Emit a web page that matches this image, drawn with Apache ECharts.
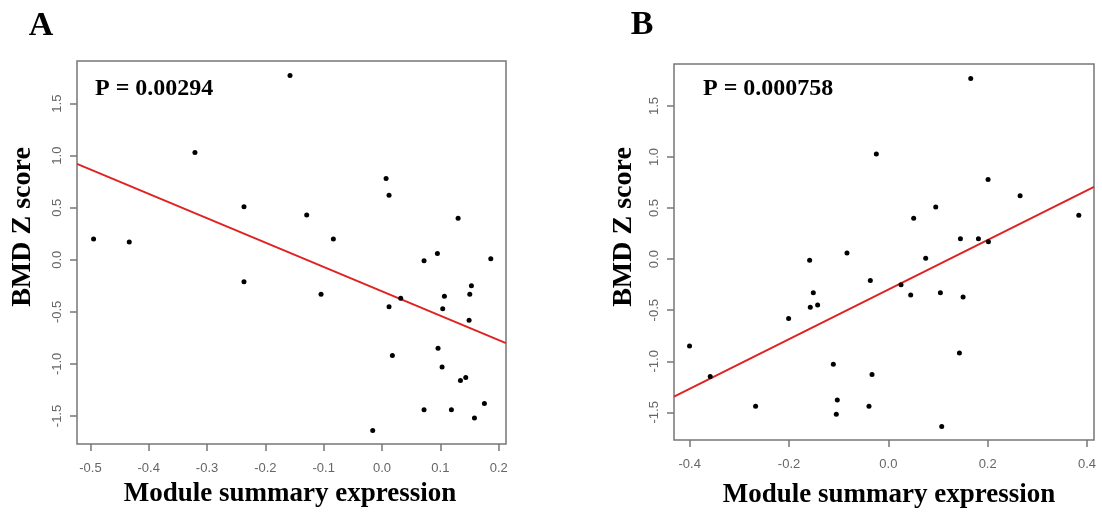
<!DOCTYPE html>
<html>
<head>
<meta charset="utf-8">
<script src="https://cdn.jsdelivr.net/npm/echarts@6/dist/echarts.min.js"></script>
<style>
  html, body { margin: 0; padding: 0; background: #fff; }
  #chart { width: 1102px; height: 513px; }
</style>
</head>
<body>
<div id="chart"></div>
<script>
// Panel A: module summary expression vs BMD Z score
const xA = [-0.4946, -0.4334, -0.3208, -0.2367, -0.2367, -0.1578, -0.1292, -0.1046, -0.0835, -0.0160,
            0.0069, 0.0120, 0.0120, 0.0177, 0.0320, 0.0720, 0.0720, 0.0949, 0.0960, 0.1029,
            0.1040, 0.1069, 0.1189, 0.1304, 0.1344, 0.1435, 0.1492, 0.1504, 0.1532, 0.1584,
            0.1755, 0.1864];
const yA = [0.20, 0.17, 1.03, 0.51, -0.21, 1.77, 0.43, -0.33, 0.20, -1.64,
            0.78, 0.62, -0.45, -0.92, -0.37, -0.01, -1.44, 0.06, -0.85, -1.03,
            -0.47, -0.35, -1.44, 0.40, -1.16, -1.13, -0.58, -0.33, -0.25, -1.52,
            -1.38, 0.01];
// fitted regression line, A (at the plot edges)
const fitAX = [-0.523, 0.2125];
const fitAY = [0.921, -0.800];

// Panel B
const xB = [-0.4003, -0.3587, -0.2673, -0.2008, -0.1585, -0.1572, -0.1511, -0.1424, -0.1108, -0.1048,
            -0.1028, -0.0833, -0.0390, -0.0363, -0.0329, -0.0242, 0.0255, 0.0450, 0.0510, 0.0752,
            0.0954, 0.1048, 0.1075, 0.1431, 0.1451, 0.1505, 0.1659, 0.1814, 0.2008, 0.2015,
            0.2653, 0.3835];
const yB = [-0.85, -1.15, -1.44, -0.58, -0.01, -0.47, -0.33, -0.45, -1.03, -1.52,
            -1.38, 0.06, -1.44, -0.21, -1.13, 1.03, -0.25, -0.35, 0.40, 0.01,
            0.51, -0.33, -1.64, -0.92, 0.20, -0.37, 1.77, 0.20, 0.78, 0.17,
            0.62, 0.43];
const fitBX = [-0.4316, 0.4141];
const fitBY = [-1.347, 0.708];

// tick labels
const ticksAX = [-0.5, -0.4, -0.3, -0.2, -0.1, 0.0, 0.1, 0.2];
const ticksBX = [-0.4, -0.2, 0.0, 0.2, 0.4];
const ticksY = [-1.5, -1.0, -0.5, 0.0, 0.5, 1.0, 1.5];

const pA = 'P = 0.00294';
const pB = 'P = 0.000758';
const xTitle = 'Module summary expression';
const yTitle = 'BMD Z score';

const zip = (xs, ys) => xs.map((x, i) => [x, ys[i]]);
const fmt = v => v.toFixed(1);

const tickColor = '#777';
const labelColor = '#666';
const serif = '"Liberation Serif", "DejaVu Serif", serif';
const sans = '"Liberation Sans", Arial, sans-serif';

function xAxis(gridIndex, min, max, ticks, margin) {
  return {
    type: 'value', gridIndex, min, max,
    axisLine: { show: false, onZero: false },
    splitLine: { show: false },
    axisTick: { show: true, inside: false, length: 7, customValues: ticks,
                lineStyle: { color: tickColor, width: 1.5 } },
    axisLabel: { customValues: ticks, formatter: fmt, margin,
                 color: labelColor, fontFamily: sans, fontSize: 13 }
  };
}
function yAxis(gridIndex, min, max) {
  return {
    type: 'value', gridIndex, min, max,
    axisLine: { show: false, onZero: false },
    splitLine: { show: false },
    axisTick: { show: true, inside: false, length: 7, customValues: ticksY,
                lineStyle: { color: tickColor, width: 1.5 } },
    axisLabel: { customValues: ticksY, formatter: fmt, rotate: 90, margin: 13,
                 color: labelColor, fontFamily: sans, fontSize: 13 }
  };
}

const dot = { color: '#000', opacity: 1 };

const chart = echarts.init(document.getElementById('chart'), null, { renderer: 'canvas' });

chart.setOption({
  backgroundColor: '#fff',
  animation: false,
  grid: [
    { left: 77, top: 61, width: 429, height: 383, show: true,
      borderColor: tickColor, borderWidth: 1.5, backgroundColor: 'transparent' },
    { left: 674, top: 64, width: 420, height: 376, show: true,
      borderColor: tickColor, borderWidth: 1.5, backgroundColor: 'transparent' }
  ],
  xAxis: [
    xAxis(0, -0.523, 0.2125, ticksAX, 18),
    xAxis(1, -0.4316, 0.4141, ticksBX, 18)
  ],
  yAxis: [
    yAxis(0, -1.769, 1.909),
    yAxis(1, -1.771, 1.911)
  ],
  series: [
    { type: 'scatter', xAxisIndex: 0, yAxisIndex: 0, data: zip(xA, yA),
      symbolSize: 5, itemStyle: dot, z: 3 },
    { type: 'line', xAxisIndex: 0, yAxisIndex: 0, data: zip(fitAX, fitAY),
      showSymbol: false, symbol: 'none', lineStyle: { color: '#e02222', width: 2 }, z: 2 },
    { type: 'scatter', xAxisIndex: 1, yAxisIndex: 1, data: zip(xB, yB),
      symbolSize: 5, itemStyle: dot, z: 3 },
    { type: 'line', xAxisIndex: 1, yAxisIndex: 1, data: zip(fitBX, fitBY),
      showSymbol: false, symbol: 'none', lineStyle: { color: '#e02222', width: 2 }, z: 2 }
  ],
  graphic: [
    { type: 'text', x: 41, y: 26, style: { text: 'A', font: 'bold 34px ' + serif,
      fill: '#000', textAlign: 'center', textVerticalAlign: 'middle' } },
    { type: 'text', x: 642, y: 25, style: { text: 'B', font: 'bold 34px ' + serif,
      fill: '#000', textAlign: 'center', textVerticalAlign: 'middle' } },
    { type: 'text', x: 95, y: 89, style: { text: pA, font: 'bold 24px ' + serif,
      fill: '#000', textAlign: 'left', textVerticalAlign: 'middle' } },
    { type: 'text', x: 703, y: 89, style: { text: pB, font: 'bold 24px ' + serif,
      fill: '#000', textAlign: 'left', textVerticalAlign: 'middle' } },
    { type: 'text', x: 290, y: 494, style: { text: xTitle, font: 'bold 27px ' + serif,
      fill: '#000', textAlign: 'center', textVerticalAlign: 'middle' } },
    { type: 'text', x: 889, y: 495, style: { text: xTitle, font: 'bold 27px ' + serif,
      fill: '#000', textAlign: 'center', textVerticalAlign: 'middle' } },
    { type: 'text', x: 23, y: 227, rotation: Math.PI / 2, style: { text: yTitle,
      font: 'bold 28px ' + serif, fill: '#000', textAlign: 'center', textVerticalAlign: 'middle' } },
    { type: 'text', x: 624, y: 227, rotation: Math.PI / 2, style: { text: yTitle,
      font: 'bold 28px ' + serif, fill: '#000', textAlign: 'center', textVerticalAlign: 'middle' } }
  ]
});
</script>
</body>
</html>
